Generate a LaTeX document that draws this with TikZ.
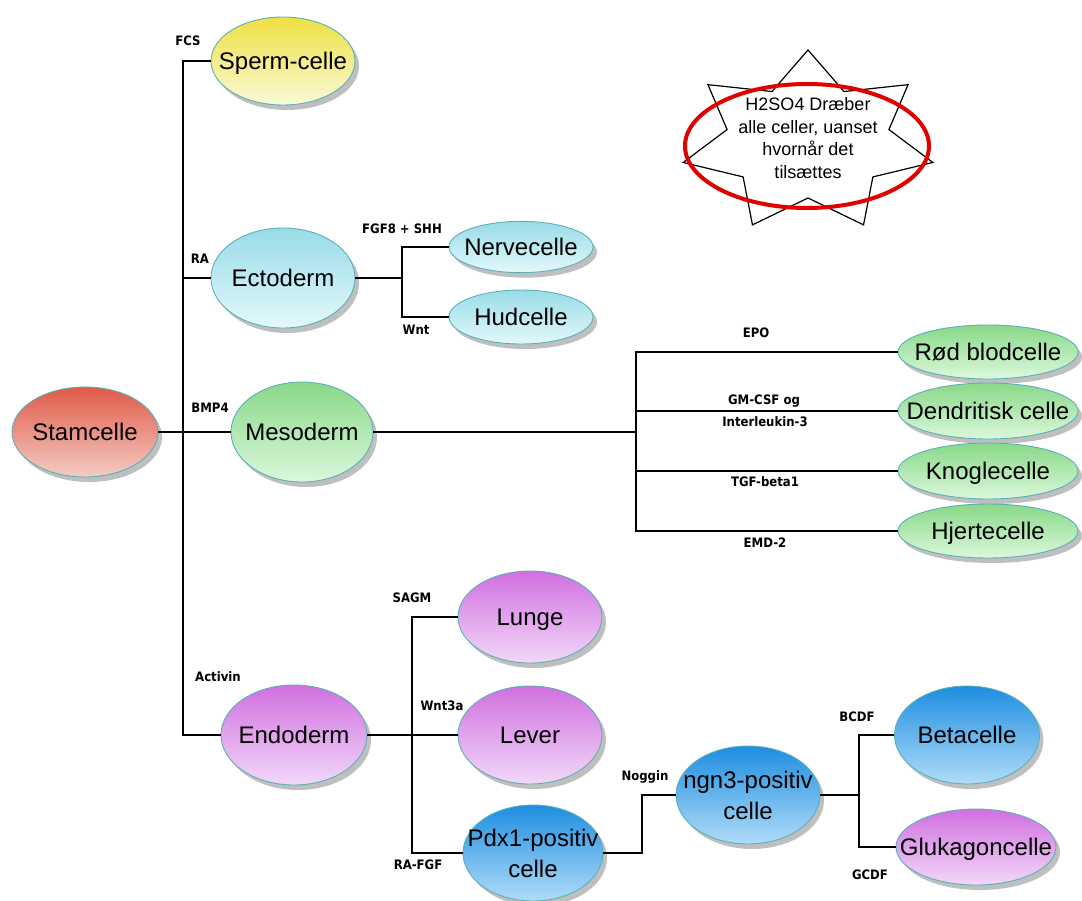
\documentclass[tikz,border=0pt]{standalone}
\usepackage{fontspec}
\setmainfont{Liberation Sans}
\newfontfamily\lblfont{DejaVu Sans Condensed}
\usetikzlibrary{shapes.geometric,shadows,calc}
\definecolor{redtop}{HTML}{E05A48}\definecolor{redbot}{HTML}{F4CCC4}
\definecolor{yeltop}{HTML}{EEE040}\definecolor{yelbot}{HTML}{FAFAD8}
\definecolor{cyatop}{HTML}{98DCE8}\definecolor{cyabot}{HTML}{E4F8FA}
\definecolor{gretop}{HTML}{88D888}\definecolor{grebot}{HTML}{DCF8DC}
\definecolor{viotop}{HTML}{D070E0}\definecolor{viobot}{HTML}{F2D8F8}
\definecolor{blutop}{HTML}{1E8EE0}\definecolor{blubot}{HTML}{B0DCF8}
\definecolor{rim}{HTML}{5AB0B8}
\definecolor{warn}{HTML}{E00000}
\newcommand\celltext[1]{\makebox[0pt]{\begin{tabular}{@{}c@{}}\rule{0pt}{27pt}#1\end{tabular}}}
\tikzset{
  cell/.style={ellipse, draw=rim, line width=0.9pt, inner sep=0pt,
    font=\fontsize{24}{31}\selectfont,
    drop shadow={shadow xshift=4pt, shadow yshift=-5pt, opacity=0.25, fill=black}},
  redc/.style={cell, top color=redtop, bottom color=redbot},
  yelc/.style={cell, top color=yeltop, bottom color=yelbot},
  cyac/.style={cell, top color=cyatop, bottom color=cyabot},
  grec/.style={cell, top color=gretop, bottom color=grebot},
  vioc/.style={cell, top color=viotop, bottom color=viobot},
  bluc/.style={cell, top color=blutop, bottom color=blubot},
  lbl/.style={inner sep=0pt, font=\lblfont\bfseries\fontsize{13}{15}\selectfont},
  conn/.style={line width=1.3pt, black},
}
\begin{document}
\begin{tikzpicture}[x=1pt,y=-1pt]
\useasboundingbox (0,0) rectangle (1082,901);
% cells
\node[redc, minimum width=146pt, minimum height=90pt] (stam) at (85,432) {\celltext{Stamcelle}};
\node[yelc, minimum width=144pt, minimum height=88pt] (sperm) at (283,61) {\celltext{Sperm-celle}};
\node[cyac, minimum width=144pt, minimum height=100pt] (ecto) at (283,278) {\celltext{Ectoderm}};
\node[cyac, minimum width=144pt, minimum height=42pt] (nerve) at (521,247) {\celltext{Nervecelle}};
\node[cyac, minimum width=144pt, minimum height=54pt] (hud) at (521,317) {\celltext{Hudcelle}};
\node[grec, minimum width=142pt, minimum height=100pt] (meso) at (302,432) {\celltext{Mesoderm}};
\node[grec, minimum width=180pt, minimum height=54pt] (rod) at (988,352) {\celltext{Rød blodcelle}};
\node[grec, minimum width=180pt, minimum height=56pt] (dend) at (988,411) {\celltext{Dendritisk celle}};
\node[grec, minimum width=180pt, minimum height=56pt] (knog) at (988,471) {\celltext{Knoglecelle}};
\node[grec, minimum width=180pt, minimum height=54pt] (hjer) at (988,531) {\celltext{Hjertecelle}};
\node[vioc, minimum width=146pt, minimum height=100pt] (endo) at (294,735) {\celltext{Endoderm}};
\node[vioc, minimum width=144pt, minimum height=92pt] (lunge) at (530,617) {\celltext{Lunge}};
\node[vioc, minimum width=144pt, minimum height=98pt] (lever) at (530,735) {\celltext{Lever}};
\node[bluc, minimum width=140pt, minimum height=96pt] (pdx) at (533,853) {\celltext{Pdx1-positiv\\celle}};
\node[bluc, minimum width=144pt, minimum height=98pt] (ngn) at (748,795) {\celltext{ngn3-positiv\\celle}};
\node[bluc, minimum width=145pt, minimum height=98pt] (beta) at (967,735) {\celltext{Betacelle}};
\node[vioc, minimum width=160pt, minimum height=76pt] (gluk) at (976,847) {\celltext{Glukagoncelle}};
% warning star
\draw[line width=1.2pt] plot[samples at={0,...,13}, variable=\k]
  ({808+(mod(\k,2)==0 ? 128 : 83)*cos(90+\k*360/14)}, {142-(mod(\k,2)==0 ? 92 : 56)*sin(90+\k*360/14)}) -- cycle;
\draw[warn, line width=4pt] (807,146) ellipse [x radius=122, y radius=62];
\node[align=center, inner sep=0pt, font=\fontsize{18}{22.7}\selectfont] (warnnote) at (808,138)
  {H2SO4 Dræber\\alle celler, uanset\\hvornår det\\tilsættes};
% connectors
\coordinate (trunk) at (183,0);
\coordinate (eb) at (402,0);
\coordinate (mb) at (636,0);
\coordinate (nb) at (412,0);
\coordinate (pb) at (642,0);
\coordinate (gb) at (859,0);
\draw[conn] (sperm.west) -| (trunk |- endo.west) -- (endo.west);
\draw[conn] (ecto.west) -- (trunk |- ecto.west);
\draw[conn] (stam.east) -- (meso.west);
\draw[conn] (ecto.east) -- (eb |- ecto.east);
\draw[conn] (nerve.west) -| (eb |- hud.west) -- (hud.west);
\draw[conn] (meso.east) -- (mb |- meso.east);
\draw[conn] (rod.west) -| (mb |- hjer.west) -- (hjer.west);
\draw[conn] (dend.west) -- (mb |- dend.west);
\draw[conn] (knog.west) -- (mb |- knog.west);
\draw[conn] (endo.east) -- (lever.west);
\draw[conn] (lunge.west) -| (nb |- pdx.west) -- (pdx.west);
\draw[conn] (pdx.east) -- (pb |- pdx.east) |- (ngn.west);
\draw[conn] (ngn.east) -- (gb |- ngn.east);
\draw[conn] (beta.west) -| (gb |- gluk.west) -- (gluk.west);
% labels
\node[lbl] (lfcs) at (188,41) {FCS};
\node[lbl] (lra) at (200,259) {RA};
\node[lbl] (lbmp) at (210,408) {BMP4};
\node[lbl] (lact) at (218,677) {Activin};
\node[lbl] (lfgf) at (402,229) {FGF8 + SHH};
\node[lbl] (lwnt) at (416,330) {Wnt};
\node[lbl] (lepo) at (756,333) {EPO};
\node[lbl] (lgm) at (764,401) {GM-CSF og};
\node[lbl] (lil) at (765,422) {Interleukin-3};
\node[lbl] (ltgf) at (765,482) {TGF-beta1};
\node[lbl] (lemd) at (765,543) {EMD-2};
\node[lbl] (lsagm) at (412,598) {SAGM};
\node[lbl] (lwnt3) at (442,706) {Wnt3a};
\node[lbl] (lrafgf) at (418,865) {RA-FGF};
\node[lbl] (lnog) at (645,777) {Noggin};
\node[lbl] (lbcdf) at (857,717) {BCDF};
\node[lbl] (lgcdf) at (870,875) {GCDF};
\end{tikzpicture}
\end{document}
